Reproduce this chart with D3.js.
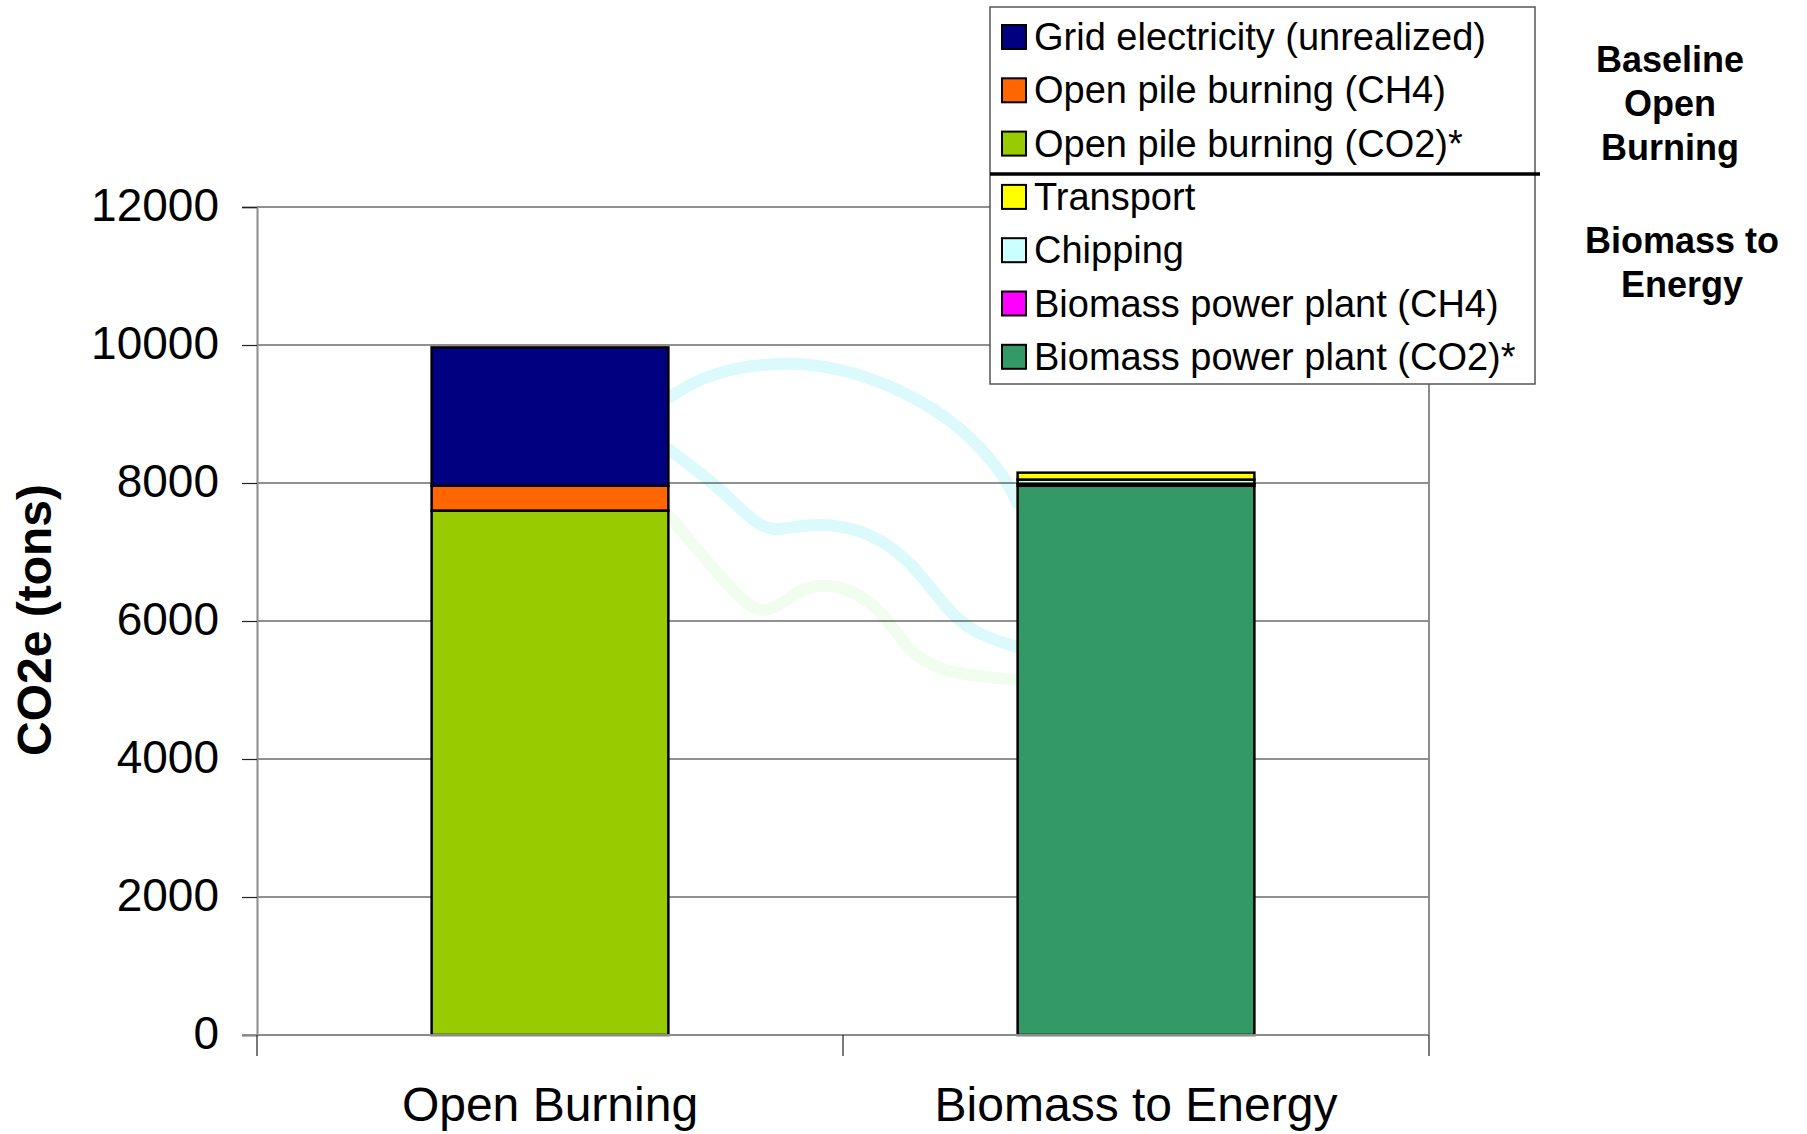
<!DOCTYPE html>
<html>
<head>
<meta charset="utf-8">
<script src="https://cdn.jsdelivr.net/npm/d3@7"></script>
<style>
  body { margin: 0; background: #fff; }
  svg { display: block; font-family: "Liberation Sans", Arial, sans-serif; }
</style>
</head>
<body>
<svg id="chart"></svg>
<script>
// data (bottom to top within each bar)
const categories = ["Open Burning", "Biomass to Energy"];
const openCO2 = [7600, 0];
const openCH4 = [360, 0];
const gridElec = [2005, 0];
const plantCO2 = [0, 7960];
const plantCH4 = [0, 30];
const chipping = [0, 60];
const transport = [0, 100];
const yTicks = [0, 2000, 4000, 6000, 8000, 10000, 12000];

const stackKeys = [
  "Open pile burning (CO2)*", "Open pile burning (CH4)", "Grid electricity (unrealized)",
  "Biomass power plant (CO2)*", "Biomass power plant (CH4)", "Chipping", "Transport"
];
const seriesValues = [openCO2, openCH4, gridElec, plantCO2, plantCH4, chipping, transport];
const seriesColors = ["#99cc00", "#ff6600", "#000080", "#339966", "#ff00ff", "#ccffff", "#ffff00"];

// legend order (top to bottom), split after the third entry
const legendKeys = [
  "Grid electricity (unrealized)", "Open pile burning (CH4)", "Open pile burning (CO2)*",
  "Transport", "Chipping", "Biomass power plant (CH4)", "Biomass power plant (CO2)*"
];

// constants
const width = 1807;
const height = 1134;
const margin = { left: 257, right: 378, top: 207, bottom: 99 };
const visWidth = width - margin.left - margin.right;
const visHeight = height - margin.top - margin.bottom;

const svg = d3.select('#chart')
  .attr('width', width)
  .attr('height', height);

const chart = svg.append('g')
  .attr('transform', 'translate(' + margin.left + ',' + margin.top + ')');

// table for d3.stack
const table = categories.map((c, i) => {
  const row = { category: c };
  stackKeys.forEach((k, j) => { row[k] = seriesValues[j][i]; });
  return row;
});
const stacked = d3.stack().keys(stackKeys)(table);
const color = d3.scaleOrdinal().domain(stackKeys).range(seriesColors);

// scales
const x = d3.scaleBand()
  .domain(categories)
  .range([0, visWidth])
  .paddingInner(0.596)
  .paddingOuter(0.298);
const xCells = d3.scaleBand().domain(categories).range([0, visWidth]);
const y = d3.scaleLinear().domain([0, 12000]).range([visHeight, 0]);

// faint background watermark (decoration)
const wm = chart.append('g').attr('fill', 'none').attr('stroke-linecap', 'round');
const curve = d3.line().curve(d3.curveBasis);
wm.append('path')
  .attr('d', curve([[413, 190], [450, 166], [526, 153], [596, 163], [666, 193], [716, 230], [750, 273], [760, 296]]))
  .attr('stroke', '#dcfafc').attr('stroke-width', 12);
wm.append('path')
  .attr('d', curve([[413, 243], [466, 283], [506, 326], [533, 320], [570, 316], [616, 326], [656, 356], [690, 403], [716, 426], [760, 440]]))
  .attr('stroke', '#dcfafc').attr('stroke-width', 12);
wm.append('path')
  .attr('d', curve([[413, 310], [466, 373], [506, 416], [540, 380], [583, 376], [623, 400], [650, 443], [683, 466], [760, 473]]))
  .attr('stroke', '#f1fdee').attr('stroke-width', 12);

// gridlines
chart.selectAll('.grid')
  .data(yTicks.filter(d => d > 0))
  .enter().append('line')
  .attr('class', 'grid')
  .attr('x1', 0).attr('x2', visWidth)
  .attr('y1', d => y(d)).attr('y2', d => y(d))
  .attr('stroke', '#222')
  .attr('stroke-width', 1.2);

// plot area right border
chart.append('line')
  .attr('x1', visWidth).attr('x2', visWidth)
  .attr('y1', 0).attr('y2', visHeight)
  .attr('stroke', '#8c8c8c').attr('stroke-width', 2);

// bars
chart.selectAll('.layer')
  .data(stacked)
  .enter().append('g')
  .attr('class', 'layer')
  .attr('fill', d => color(d.key))
  .selectAll('rect')
  .data(d => d.filter(s => s[1] - s[0] > 0))
  .enter().append('rect')
  .attr('x', d => x(d.data.category))
  .attr('width', x.bandwidth())
  .attr('y', d => y(d[1]))
  .attr('height', d => y(d[0]) - y(d[1]))
  .attr('stroke', '#000')
  .attr('stroke-width', 2.5);

// y axis
const yAxis = chart.append('g')
  .call(d3.axisLeft(y).tickValues(yTicks).tickFormat(d3.format('d')).tickSize(15).tickPadding(23));
yAxis.select('.domain').attr('stroke', '#8c8c8c').attr('stroke-width', 2);
yAxis.selectAll('.tick line').attr('stroke', '#222').attr('stroke-width', 1.2);
yAxis.selectAll('.tick text')
  .attr('font-size', 46)
  .attr('font-family', '"Liberation Sans", Arial, sans-serif')
  .attr('fill', '#000')
  .attr('dy', '0.3em');

// x axis (Excel style ticks between categories)
chart.append('line')
  .attr('x1', -15).attr('x2', visWidth)
  .attr('y1', visHeight).attr('y2', visHeight)
  .attr('stroke', '#8c8c8c').attr('stroke-width', 2);
chart.selectAll('.xtick')
  .data(categories.map(c => xCells(c)).concat([visWidth]))
  .enter().append('line')
  .attr('class', 'xtick')
  .attr('x1', d => d).attr('x2', d => d)
  .attr('y1', visHeight).attr('y2', visHeight + 21)
  .attr('stroke', '#222').attr('stroke-width', 1.2);
chart.selectAll('.xlabel')
  .data(categories)
  .enter().append('text')
  .attr('class', 'xlabel')
  .attr('x', d => x(d) + x.bandwidth() / 2)
  .attr('y', visHeight + 86)
  .attr('text-anchor', 'middle')
  .attr('font-size', 48)
  .text(d => d);

// y axis title
svg.append('text')
  .attr('transform', 'translate(51,620) rotate(-90)')
  .attr('text-anchor', 'middle')
  .attr('font-size', 48)
  .attr('font-weight', 'bold')
  .text('CO2e (tons)');

// legend
const legend = svg.append('g').attr('transform', 'translate(990,7)');
legend.append('rect')
  .attr('width', 545).attr('height', 377)
  .attr('fill', '#fff')
  .attr('stroke', '#555').attr('stroke-width', 1.5);
const legendRow = legend.selectAll('.lg')
  .data(legendKeys)
  .enter().append('g')
  .attr('class', 'lg')
  .attr('transform', (d, i) => 'translate(0,' + (30 + i * 53.3) + ')');
legendRow.append('rect')
  .attr('x', 12).attr('y', -12)
  .attr('width', 24).attr('height', 24)
  .attr('fill', d => color(d))
  .attr('stroke', '#000').attr('stroke-width', 2);
legendRow.append('text')
  .attr('x', 44).attr('y', 13)
  .attr('font-size', 38)
  .text(d => d);
legend.append('line')
  .attr('x1', 0).attr('x2', 550)
  .attr('y1', 167).attr('y2', 167)
  .attr('stroke', '#000').attr('stroke-width', 3.5);

// side annotations
const notes = [
  { lines: ["Baseline", "Open", "Burning"], x: 1670, y: 72 },
  { lines: ["Biomass to", "Energy"], x: 1682, y: 253 }
];
notes.forEach(n => {
  svg.append('text')
    .attr('text-anchor', 'middle')
    .attr('font-size', 36)
    .attr('font-weight', 'bold')
    .selectAll('tspan')
    .data(n.lines)
    .enter().append('tspan')
    .attr('x', n.x)
    .attr('y', (d, i) => n.y + i * 44)
    .text(d => d);
});
</script>
</body>
</html>
